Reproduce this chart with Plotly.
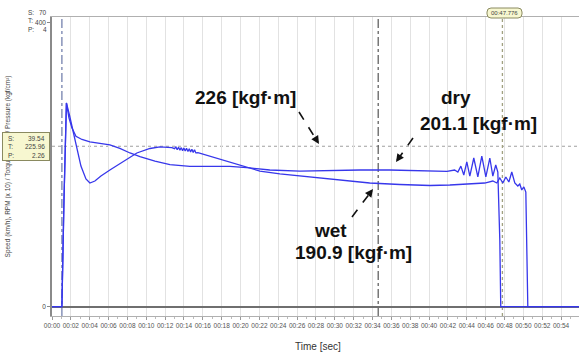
import plotly.graph_objects as go

# Torque traces recorded during the engagement test (time in s, torque in kgf·m)
time_dry = [0, 0.95, 1.05, 1.27, 1.53, 1.80, 2.11, 2.54, 3.18, 4.02,
            5.08, 6.14, 7.20, 8.27, 9.33, 10.92, 12.51, 14.63, 16.75, 18.87,
            20.99, 23.10, 26.30, 29.50, 32.70, 35.80, 39.00, 41.90, 42.70, 43.05,
            43.37, 43.68, 44.00, 44.32, 44.74, 45.17, 45.59, 46.02, 46.44, 46.76,
            47.07, 47.29, 47.50, 47.60, 55.90]
torque_dry = [0, 0, 0, 150, 287, 266, 252, 240, 235.5, 232,
              230.5, 228, 223, 216.5, 211.5, 205, 200, 197.5, 197.5, 197.5,
              195.4, 192.5, 191, 192, 192.5, 192.5, 192, 190.5, 192.5, 189.7,
              198, 185.5, 204, 184, 209.4, 182.7, 212, 182.7, 209.4, 184,
              199.6, 189.7, 94, 0, 0]

time_wet = [0, 0.95, 1.05, 1.27, 1.53, 1.85, 2.22, 2.65, 3.07, 3.60,
            4.02, 4.55, 5.19, 6.14, 7.52, 9.00, 10.39, 11.45, 12.72, 13.00,
            13.14, 13.28, 13.42, 13.57, 13.71, 13.85, 13.99, 14.13, 14.27, 14.42,
            14.56, 14.70, 14.84, 14.98, 15.12, 15.26, 15.48, 16.00, 17.28, 18.87,
            20.46, 22.05, 24.17, 26.29, 28.40, 31.06, 33.70, 36.90, 40.10, 42.20,
            44.30, 45.90, 46.76, 47.18, 47.50, 47.82, 48.14, 48.46, 48.77, 49.09,
            49.41, 49.62, 49.83, 50.05, 50.26, 50.37, 50.47, 55.90]
torque_wet = [0, 0, 0, 150, 287, 270, 249, 220.7, 198, 180,
              174.2, 177, 184, 192.5, 203.8, 216.5, 222.8, 225, 224, 222.5,
              225, 221, 224.5, 220.5, 224, 219.8, 223.6, 219.2, 223, 218.5,
              222.3, 218, 221.6, 217.3, 221, 216.6, 217, 215, 210, 203.8,
              197.5, 191, 187, 184, 181.3, 177, 174.2, 172.1, 170.7, 171.4,
              172.8, 174.2, 177, 174.2, 181.3, 174.2, 182.7, 175.6, 189.7, 174.2,
              170, 172.8, 164.4, 168.6, 161.5, 94, 0, 0]

tick_seconds = list(range(0, 56, 2))
tick_labels = [f"00:{s:02d}" for s in tick_seconds]

reference_torque = 225.96
cursor_time = 47.776
marker_times = [1.05, 34.6]

# Figure geometry (pixels)
W, H = 579, 353
L, R, T, B = 52, 0, 17, 37
PW, PH = W - L - R, H - T - B


def px(x):
    return (x - L) / PW


def py(y):
    return (H - B - y) / PH


def rounded_box(x0, y0, x1, y1, r=3):
    rx, ry = r / PW, r / PH
    a, b, c, d = px(x0), py(y1), px(x1), py(y0)
    return (f"M {a+rx},{b} L {c-rx},{b} Q {c},{b} {c},{b+ry} L {c},{d-ry} "
            f"Q {c},{d} {c-rx},{d} L {a+rx},{d} Q {a},{d} {a},{d-ry} "
            f"L {a},{b+ry} Q {a},{b} {a+rx},{b} Z")


line_color = "rgb(55,55,235)"
fig = go.Figure()
fig.add_trace(go.Scatter(x=time_wet, y=torque_wet, mode="lines",
                         line=dict(color=line_color, width=1.3), name="wet"))
fig.add_trace(go.Scatter(x=time_dry, y=torque_dry, mode="lines",
                         line=dict(color=line_color, width=1.3), name="dry"))

shapes = []
# reference torque level
shapes.append(dict(type="line", xref="paper", x0=0, x1=1, yref="y",
                   y0=reference_torque, y1=reference_torque,
                   line=dict(color="#a0a0a0", width=1.2, dash="dot"), layer="below"))
# event markers
shapes.append(dict(type="line", xref="x", x0=marker_times[0], x1=marker_times[0],
                   yref="paper", y0=0, y1=1,
                   line=dict(color="#6a78a8", width=1.2, dash="dashdot"), layer="below"))
shapes.append(dict(type="line", xref="x", x0=marker_times[1], x1=marker_times[1],
                   yref="paper", y0=0, y1=1,
                   line=dict(color="#555555", width=1.2, dash="dashdot"), layer="below"))
shapes.append(dict(type="line", xref="x", x0=cursor_time, x1=cursor_time,
                   yref="paper", y0=0, y1=1,
                   line=dict(color="#a0a080", width=1.3, dash="dot"), layer="below"))
# cursor time box
shapes.append(dict(type="path", xref="paper", yref="paper",
                   path=rounded_box(487, 8, 522, 18, 4),
                   fillcolor="#f7f7d0", line=dict(color="#8a8a60", width=1)))

annotations = []
small = dict(family="Liberation Sans, Arial, sans-serif", size=6.5, color="#444444")


def text(x, y, s, font, xanchor="center", **kw):
    annotations.append(dict(x=px(x), y=py(y), xref="paper", yref="paper",
                            text=s, showarrow=False, font=font,
                            xanchor=xanchor, yanchor="middle", **kw))


text(318, 346, "Time [sec]", dict(family="Liberation Sans, Arial, sans-serif",
                                  size=10, color="#333333"))

# cursor readout panel (sits over the y-axis title)
annotations.append(dict(x=px(26), y=py(146.5), xref="paper", yref="paper",
                        text="", showarrow=False, width=46, height=27,
                        bgcolor="#f7f7d0", bordercolor="#8a8a60", borderwidth=1,
                        borderpad=0, xanchor="center", yanchor="middle"))
for label, value, yy in [("S:", "39.54", 138), ("T:", "225.96", 146.5), ("P:", "2.26", 155)]:
    text(6, yy, label, small, xanchor="left")
    text(47, yy, value, small, xanchor="right")
text(504.5, 13, "00:47.776", dict(small, size=6))

# channel scale labels
for label, value, yy in [("S:", "70", 12), ("T:", "", 21), ("P:", "4", 29.5)]:
    text(26, yy, label, small, xanchor="left")
    if value:
        text(49, yy, value, small, xanchor="right")

# callouts
big = dict(family="Liberation Sans, Arial, sans-serif",
           size=19, color="#111111", weight="bold")
text(245, 97, "226 [kgf·m]", big)
text(456, 97, "dry", big)
text(478, 123, "201.1 [kgf·m]", big)
text(330, 230, "wet", big)
text(353, 252, "190.9 [kgf·m]", big)


def dashed_arrow(tail, head):
    dx, dy = head[0] - tail[0], head[1] - tail[1]
    n = (dx * dx + dy * dy) ** 0.5
    ux, uy = dx / n, dy / n
    shapes.append(dict(type="line", xref="paper", yref="paper",
                       x0=px(tail[0]), y0=py(tail[1]),
                       x1=px(head[0] - 5 * ux), y1=py(head[1] - 5 * uy),
                       line=dict(color="#111111", width=1.6, dash="dash")))
    annotations.append(dict(x=px(head[0]), y=py(head[1]), xref="paper", yref="paper",
                            text="", showarrow=True, arrowhead=2, arrowsize=1,
                            arrowwidth=1.6, arrowcolor="#111111",
                            ax=-7 * ux, ay=-7 * uy))


dashed_arrow((299, 112), (319, 144))
dashed_arrow((413, 138), (396, 162))
dashed_arrow((352, 217), (373, 189))

fig.update_layout(
    width=W, height=H,
    margin=dict(l=L, r=R, t=T, b=B),
    paper_bgcolor="white", plot_bgcolor="white",
    showlegend=False,
    shapes=shapes, annotations=annotations,
    xaxis=dict(range=[0, 55.9], tickvals=tick_seconds, ticktext=tick_labels,
               showgrid=True, gridcolor="#e2e2e2", gridwidth=1,
               zeroline=False, showline=True, linecolor="#b0b0b0", mirror=True,
               ticks="outside", ticklen=3, tickcolor="#999999",
               minor=dict(dtick=1, ticks="outside", ticklen=2, tickcolor="#bbbbbb",
                          showgrid=False),
               tickfont=dict(family="Liberation Sans, Arial, sans-serif",
                             size=6.5, color="#555555"),
               tickangle=0),
    yaxis=dict(range=[-13.1, 408.0], tickvals=[0, 400], ticktext=["0", "400"],
               title=dict(text="Speed (km/h), RPM (x 10) / Torque (kgf·m) / Pressure (kgf/cm²)",
                          font=dict(small, size=6.5), standoff=24),
               automargin=False,
               showgrid=False, zeroline=True, zerolinecolor="#6f6f6f", zerolinewidth=2,
               showline=True, linecolor="#8a8a8a", linewidth=1.5,
               ticks="outside", ticklen=3, tickcolor="#888888",
               tickfont=dict(family="Liberation Sans, Arial, sans-serif",
                             size=6.5, color="#444444")),
)

fig.write_html("out.html")
